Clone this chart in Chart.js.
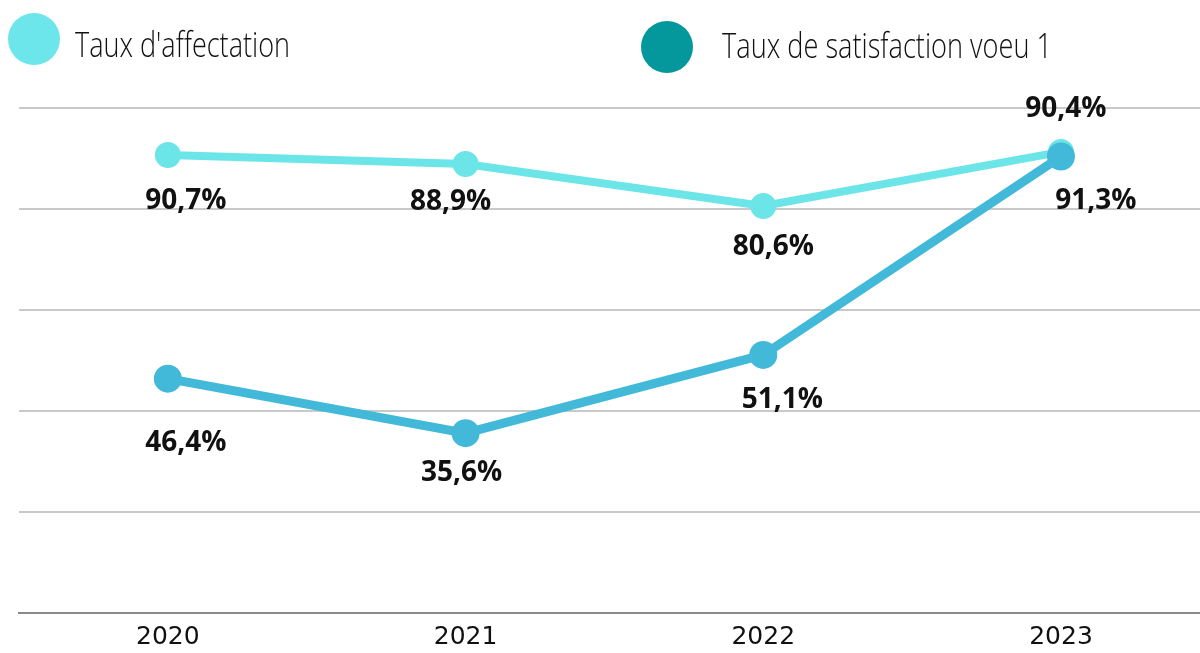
<!DOCTYPE html>
<html>
<head>
<meta charset="utf-8">
<script src="https://cdn.jsdelivr.net/npm/chart.js@4"></script>
<style>
  html, body { margin: 0; padding: 0; background: #fff; overflow: hidden; }
  canvas { display: block; }
</style>
</head>
<body>
<canvas id="chart" width="1200" height="653"></canvas>
<script>
var years = ['2020', '2021', '2022', '2023'];
var affectation = [90.7, 88.9, 80.6, 91.3];
var satisfaction = [46.4, 35.6, 51.1, 90.4];
var seriesNames = ["Taux d'affectation", 'Taux de satisfaction voeu 1'];

// where each value label sits relative to its point (px)
var labelOffsets = [
    [[18, 46], [-15, 38], [10, 41], [35, 49]],
    [[18, 64], [-4, 40], [19, 45], [5, -47]]
];

function toPoints(values) {
    return values.map(function (v, i) { return { x: i, y: v }; });
}

function fmt(v) {
    return v.toFixed(1).replace('.', ',') + '%';
}

var legendPlugin = {
    id: 'topLegend',
    afterDraw: function (chart) {
        var ctx = chart.ctx;
        var items = [
            { color: '#6ce6ea', cx: 34, cy: 39, tx: 75, ty: 57, w: 215 },
            { color: '#04989c', cx: 667, cy: 47, tx: 722, ty: 58, w: 330 }
        ];
        ctx.save();
        items.forEach(function (it, i) {
            ctx.fillStyle = it.color;
            ctx.beginPath();
            ctx.arc(it.cx, it.cy, 26, 0, Math.PI * 2);
            ctx.fill();
            ctx.font = '300 34px "Open Sans"';
            ctx.fillStyle = '#111';
            ctx.textBaseline = 'alphabetic';
            var m = ctx.measureText(seriesNames[i]).width;
            ctx.save();
            ctx.translate(it.tx, it.ty);
            ctx.scale(it.w / m, 1);
            ctx.fillText(seriesNames[i], 0, 0);
            ctx.restore();
        });
        ctx.restore();
    }
};

var valueLabels = {
    id: 'valueLabels',
    afterDatasetsDraw: function (chart) {
        var ctx = chart.ctx;
        ctx.save();
        ctx.font = 'bold 28px "Open Sans"';
        ctx.fillStyle = '#111';
        ctx.textAlign = 'center';
        ctx.textBaseline = 'middle';
        chart.data.datasets.forEach(function (ds, di) {
            var meta = chart.getDatasetMeta(di);
            meta.data.forEach(function (pt, i) {
                var off = labelOffsets[di][i];
                ctx.fillText(fmt(ds.data[i].y), pt.x + off[0], pt.y + off[1]);
            });
        });
        ctx.restore();
    }
};

new Chart(document.getElementById('chart').getContext('2d'), {
    type: 'line',
    data: {
        datasets: [{
            label: seriesNames[0],
            data: toPoints(affectation),
            borderColor: '#6ce5e8',
            backgroundColor: '#6ce5e8',
            borderWidth: 8,
            pointRadius: 9,
            pointHoverRadius: 9,
            order: 2
        }, {
            label: seriesNames[1],
            data: toPoints(satisfaction),
            borderColor: '#42b9d8',
            backgroundColor: '#42b9d8',
            borderWidth: 9,
            pointRadius: 9.5,
            pointHoverRadius: 9.5,
            order: 1
        }]
    },
    options: {
        responsive: false,
        animation: false,
        layout: {
            autoPadding: false,
            padding: { top: 108, left: 19, right: 0, bottom: -8 }
        },
        plugins: {
            legend: { display: false },
            tooltip: { enabled: false }
        },
        scales: {
            x: {
                type: 'linear',
                min: -0.5,
                max: 3.467,
                afterBuildTicks: function (scale) {
                    scale.ticks = years.map(function (_, i) { return { value: i }; });
                },
                grid: { display: false, drawTicks: false },
                border: { display: true, color: '#8a8a8a', width: 2 },
                ticks: {
                    padding: 9,
                    color: '#111',
                    font: { family: 'DejaVu Sans', size: 25 },
                    maxRotation: 0,
                    autoSkip: false,
                    callback: function (v) { return years[v]; }
                }
            },
            y: {
                min: 0,
                max: 100,
                display: true,
                ticks: { display: false, stepSize: 20 },
                grid: { color: '#c9c9c9', lineWidth: 2, drawTicks: false },
                border: { display: false }
            }
        }
    },
    plugins: [legendPlugin, valueLabels]
});
</script>
</body>
</html>
